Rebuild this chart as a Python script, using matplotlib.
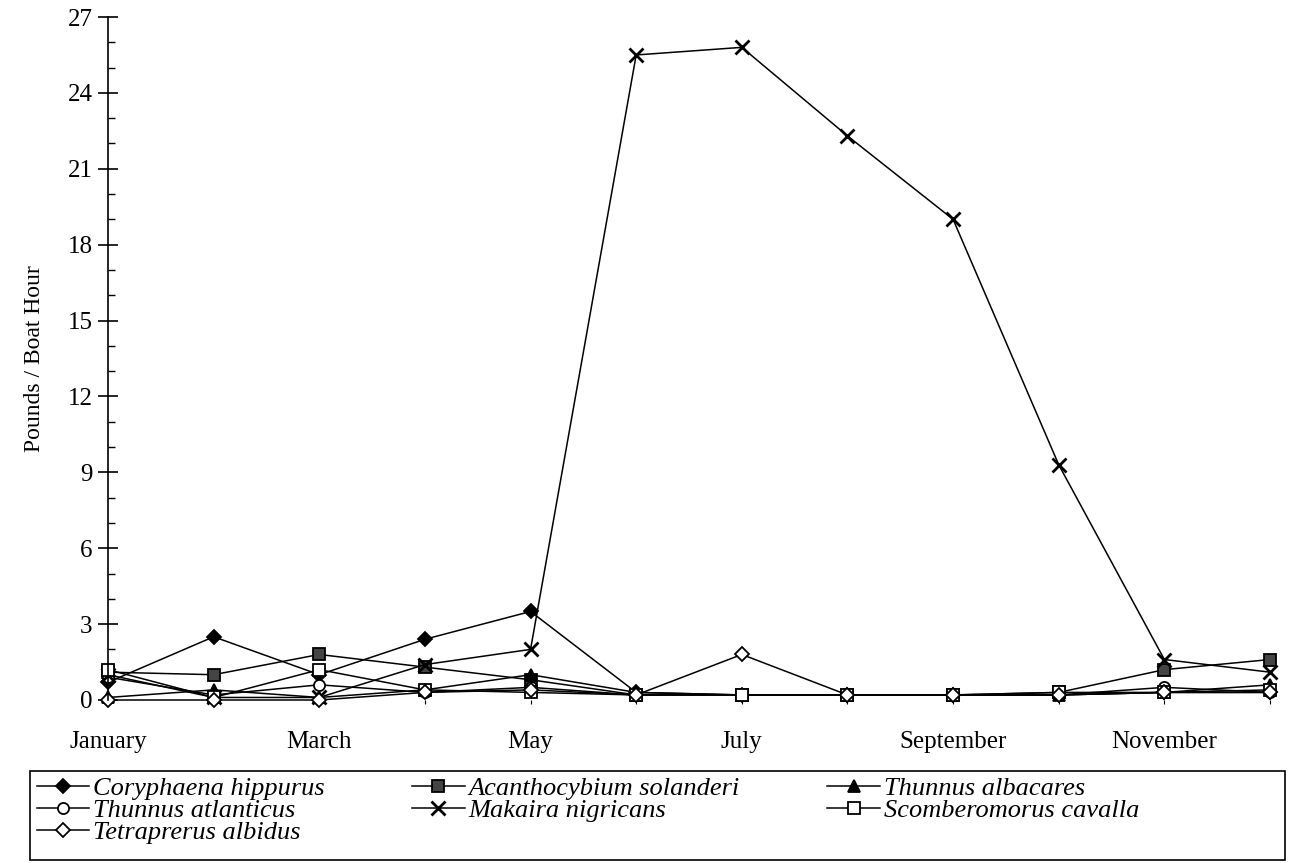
import matplotlib.pyplot as plt
from matplotlib.patches import Rectangle
from matplotlib.ticker import MultipleLocator

plt.rcParams['font.family'] = ['Liberation Serif', 'DejaVu Serif']

# months (index 0 = January)
months = ['January', 'February', 'March', 'April', 'May', 'June', 'July',
          'August', 'September', 'October', 'November', 'December']

# pounds per boat hour
coryphaena = [0.7, 2.5, 1.0, 2.4, 3.5, 0.3, 0.2, 0.2, 0.2, 0.2, 0.3, 0.3]
acanthocybium = [1.1, 1.0, 1.8, 1.3, 0.8, 0.2, 0.2, 0.2, 0.2, 0.3, 1.2, 1.6]
albacares = [0.1, 0.4, 0.1, 0.4, 1.0, 0.3, 0.2, 0.2, 0.2, 0.2, 0.3, 0.6]
atlanticus = [0.9, 0.2, 0.6, 0.3, 0.5, 0.2, 0.2, 0.2, 0.2, 0.2, 0.5, 0.3]
makaira = [1.0, 0.1, 0.1, 1.4, 2.0, 25.5, 25.8, 22.3, 19.0, 9.3, 1.6, 1.1]
scomberomorus = [1.2, 0.1, 1.2, 0.4, 0.3, 0.2, 0.2, 0.2, 0.2, 0.3, 0.3, 0.4]
tetrapterus = [0.0, 0.0, 0.0, 0.3, 0.4, 0.2, 1.8, 0.2, 0.2, 0.2, 0.3, 0.3]

fig = plt.figure(figsize=(12.93, 8.63), dpi=100)
ax = fig.add_axes([108/1293, 1 - 700/863, (1270 - 108)/1293, 683/863])

x = list(range(len(months)))
base = dict(color='black', lw=1.1, clip_on=False)
h_cor, = ax.plot(x, coryphaena, marker='D', ms=7, mew=1.3, mfc='black', label='Coryphaena hippurus', **base)
h_aca, = ax.plot(x, acanthocybium, marker='s', ms=8, mew=1.3, mfc='#444444', label='Acanthocybium solanderi', **base)
h_alb, = ax.plot(x, albacares, marker='^', ms=8, mew=1.3, mfc='black', label='Thunnus albacares', **base)
h_atl, = ax.plot(x, atlanticus, marker='o', ms=8, mew=1.3, mfc='white', label='Thunnus atlanticus', **base)
h_mak, = ax.plot(x, makaira, marker='x', ms=10, mew=2, label='Makaira nigricans', **base)
h_sco, = ax.plot(x, scomberomorus, marker='s', ms=8, mew=1.3, mfc='white', label='Scomberomorus cavalla', **base)
h_tet, = ax.plot(x, tetrapterus, marker='D', ms=7, mew=1.3, mfc='white', label='Tetraprerus albidus', **base)

ax.set_xlim(0, 11)
ax.set_ylim(0, 27)
ax.yaxis.set_major_locator(MultipleLocator(3))
ax.yaxis.set_minor_locator(MultipleLocator(1))
ax.tick_params(axis='y', which='major', direction='inout', length=14, width=1.2, labelsize=18, pad=4)
ax.tick_params(axis='y', which='minor', direction='in', length=5, width=1)
ax.set_xticks(x)
ax.set_xticklabels([m if i % 2 == 0 else '' for i, m in enumerate(months)])
ax.tick_params(axis='x', length=3, width=0.8, labelsize=18, pad=19)

for s in ['top', 'right', 'bottom']:
    ax.spines[s].set_visible(False)
ax.spines['left'].set_linewidth(1.2)

ax.set_ylabel('Pounds / Boat Hour', fontsize=17, labelpad=16)

handles = [h_cor, h_atl, h_tet, h_aca, h_mak, h_alb, h_sco]
leg = fig.legend(handles=handles, labels=[h.get_label() for h in handles],
                 ncol=3, loc='upper left',
                 bbox_to_anchor=(30/1293, 1 - 770/863),
                 prop={'family': 'Liberation Serif', 'style': 'italic', 'size': 19},
                 frameon=False, borderpad=0.25,
                 labelspacing=-0.05, handlelength=2.0, handletextpad=0.15,
                 columnspacing=3.3, borderaxespad=0)

# legend box spans the full width below the plot
fig.add_artist(Rectangle((30/1293, 3/863), 1255/1293, 89/863, transform=fig.transFigure,
                         fill=False, lw=1.2, edgecolor='black'))

fig.savefig('out.png', dpi=100)
